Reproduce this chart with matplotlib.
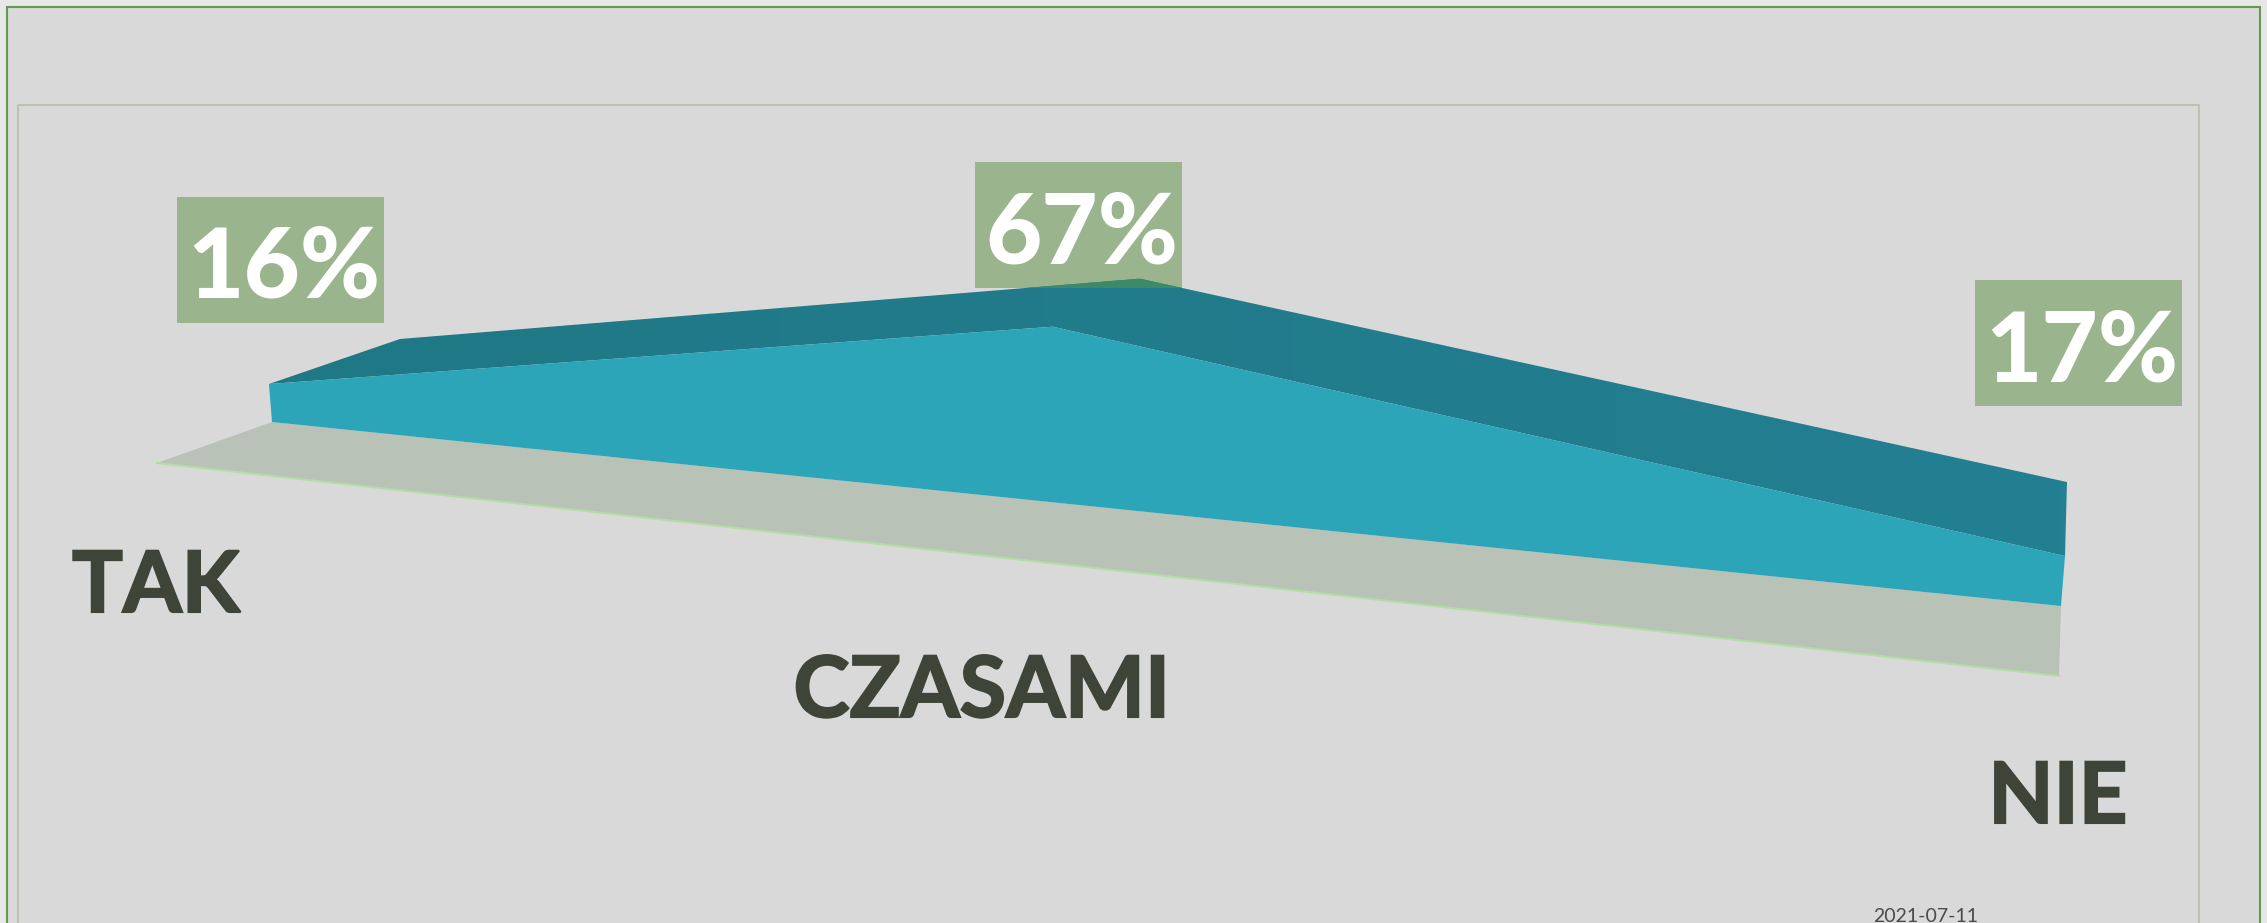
import numpy as np
import matplotlib
matplotlib.use("Agg")
import matplotlib.pyplot as plt
import matplotlib.patheffects as pe
from matplotlib.colors import LinearSegmentedColormap
from matplotlib.patches import Polygon, Rectangle

plt.rcParams['font.family'] = ['Lato', 'DejaVu Sans']

# Data
categories = ['TAK', 'CZASAMI', 'NIE']
values = [16, 67, 17]
date_label = '2021-07-11'

# Category positions along the floor of the fake 3D chart (0..1)
cat_pos = np.array([0.0, 0.4366, 1.0])

# Colours
OUTER_BG = '#e7e7e7'
INNER_BG = '#d9d9d9'
GREEN_LINE = '#629a4e'
PLOT_LINE = '#b9c3b0'
BOX = '#9ab48e'
FRONT = '#2ca5b8'
WALL_LEFT = '#1f7885'
WALL_RIGHT = '#237f92'
WALL_OVER_BOX = '#3d8a68'
FLOOR = '#b8c2b6'
FLOOR_EDGE = '#b4dca6'
TEXT = '#3e4437'


def front_base(t):
    return 272 + 1789 * t, 422 + 184 * t


def front_top(t, v):
    x, y = front_base(t)
    return x + v * (-0.19 + 0.425 * t), y - v * (2.375 + 0.565 * t)


def back_top(t, v):
    x, y = front_top(t, v)
    return x + 127.1 - 129.24 * t + 0.243 * v, y - 48.06 - 29.19 * t + 0.191 * v


def floor_front(t):
    x, y = front_base(t)
    return x - 115 + 113 * t, y + 41 + 29 * t


fig = plt.figure(figsize=(22.67, 9.23), dpi=100, facecolor=OUTER_BG)
ax = fig.add_axes([0, 0, 1, 1])
ax.axis('off')

# Frames, they run off the bottom of the picture
ax.add_patch(Rectangle((7, 6.5), 2253, 960, fc=INNER_BG, ec=GREEN_LINE, lw=1.5))
ax.add_patch(Rectangle((18, 105), 2181, 960, fc='none', ec=PLOT_LINE, lw=1.5))

ends = np.array([0.0, 1.0])
floor_pts = [front_base(t) for t in ends] + [floor_front(t) for t in ends[::-1]]
ax.add_patch(Polygon(floor_pts, closed=True, fc=FLOOR, ec='none', zorder=2))
ax.plot(*zip(*[floor_front(t) for t in ends]), color=FLOOR_EDGE, lw=1.5, zorder=2)

# Value boxes
box_w, box_h = 207, 126
box_xy = [(177, 197), (975, 162), (1975, 280)]
text_base = [298, 263, 381]
boxes = []
for (bx, by), ty, v in zip(box_xy, text_base, values):
    r = Rectangle((bx, by), box_w, box_h, fc=BOX, ec='none', zorder=3)
    ax.add_patch(r)
    boxes.append(r)
    ax.text(bx + box_w / 2 + 3, ty, f"{v}%", color='white', fontsize=70,
            fontweight='black', va='baseline', ha='center', zorder=6)

# Area wall and front face
front_line = [front_top(t, v) for t, v in zip(cat_pos, values)]
back_line = [back_top(t, v) for t, v in zip(cat_pos, values)]
wall_pts = front_line + back_line[::-1]
wall = Polygon(wall_pts, closed=True, fc='none', ec='none', zorder=4)
ax.add_patch(wall)
cmap = LinearSegmentedColormap.from_list('wall', [WALL_LEFT, WALL_RIGHT])
grad = ax.imshow(np.linspace(0, 1, 256).reshape(1, -1), cmap=cmap, aspect='auto',
                 extent=(269, 2067, 560, 270), zorder=4)
grad.set_clip_path(wall)

over = Polygon(wall_pts, closed=True, fc=WALL_OVER_BOX, ec='none', zorder=5)
ax.add_patch(over)
over.set_clip_path(boxes[1])

front_pts = front_line + [front_base(1.0), front_base(0.0)]
ax.add_patch(Polygon(front_pts, closed=True, fc=FRONT, ec='none', zorder=5))

# Category names
cat_xy = [(156, 612), (982, 717), (2058, 823)]
for (tx, ty), name in zip(cat_xy, categories):
    ax.text(tx, ty, name, color=TEXT, fontsize=61, fontweight='bold',
            va='baseline', ha='center', zorder=6,
            path_effects=[pe.withStroke(linewidth=1.5, foreground=TEXT, joinstyle='miter')])

ax.text(1873, 921.5, date_label, color='#4a4a4a', fontsize=14,
        va='baseline', ha='left', zorder=6)

ax.set_xlim(0, 2267)
ax.set_ylim(923, 0)

fig.savefig('out.png', dpi=100, facecolor=OUTER_BG)
